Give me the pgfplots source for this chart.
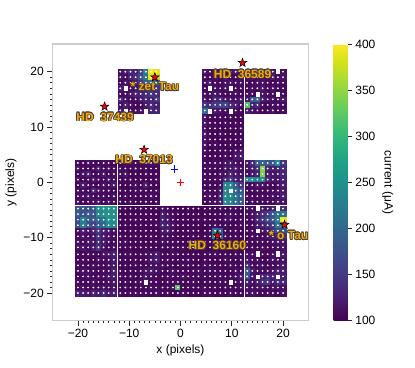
\documentclass[border=0pt]{standalone}
\usepackage{fontspec}
\setmainfont{Liberation Sans}
\usepackage{pgfplots}
\pgfplotsset{compat=1.18}
\usepackage{pgfplotstable}
\definecolor{lblor}{RGB}{255,165,0}

% filled five-point star
\pgfdeclareplotmark{fstar}{%
  \pgfpathmoveto{\pgfpointpolar{90}{\pgfplotmarksize}}%
  \pgfpathlineto{\pgfpointpolar{126}{0.4\pgfplotmarksize}}%
  \pgfpathlineto{\pgfpointpolar{162}{\pgfplotmarksize}}%
  \pgfpathlineto{\pgfpointpolar{198}{0.4\pgfplotmarksize}}%
  \pgfpathlineto{\pgfpointpolar{234}{\pgfplotmarksize}}%
  \pgfpathlineto{\pgfpointpolar{270}{0.4\pgfplotmarksize}}%
  \pgfpathlineto{\pgfpointpolar{306}{\pgfplotmarksize}}%
  \pgfpathlineto{\pgfpointpolar{342}{0.4\pgfplotmarksize}}%
  \pgfpathlineto{\pgfpointpolar{18}{\pgfplotmarksize}}%
  \pgfpathlineto{\pgfpointpolar{54}{0.4\pgfplotmarksize}}%
  \pgfpathclose
  \pgfusepathqfillstroke}

% orange label with a dark outline
\newcommand{\lblfont}{\fontsize{12}{14}\selectfont\bfseries}
\newcommand{\olbl}[2]{%
  \foreach \a in {0,30,...,330}{%
    \node[inner sep=0pt, text=black!75, font=\lblfont] at ([shift={(\a:0.75pt)}]#1) {#2};}%
  \node[inner sep=0pt, text=lblor, font=\lblfont] at (#1) {#2};}

% pixel currents: x y current (missing pixels left out)
\pgfplotstableread[row sep=\\]{
x y c\\
-11.75 20 110\\ -10.75 20 122\\ -9.75 20 135\\ -8.75 20 126\\ -7.75 20 150\\ -6.75 20 230\\ -5.75 20 395\\ -4.75 20 390\\
-11.75 19 114\\ -10.75 19 107\\ -9.75 19 126\\ -8.75 19 135\\ -7.75 19 170\\ -6.75 19 215\\ -5.75 19 385\\ -4.75 19 370\\
-11.75 18 104\\ -10.75 18 118\\ -9.75 18 110\\ -8.75 18 122\\ -7.75 18 145\\ -6.75 18 185\\ -5.75 18 210\\ -4.75 18 190\\
-11.75 17 126\\ -9.75 17 107\\ -8.75 17 114\\ -7.75 17 135\\ -6.75 17 150\\ -5.75 17 175\\ -4.75 17 145\\
-11.75 16 107\\ -10.75 16 110\\ -9.75 16 118\\ -8.75 16 130\\ -7.75 16 126\\ -6.75 16 135\\ -5.75 16 145\\ -4.75 16 135\\
-11.75 15 135\\ -10.75 15 114\\ -9.75 15 104\\ -8.75 15 110\\ -7.75 15 122\\ -6.75 15 130\\ -5.75 15 126\\ -4.75 15 150\\
-11.75 14 110\\ -10.75 14 126\\ -9.75 14 114\\ -8.75 14 104\\ -7.75 14 107\\ -6.75 14 118\\ -5.75 14 135\\ -4.75 14 122\\
-11.75 13 118\\ -9.75 13 107\\ -8.75 13 110\\ -7.75 13 114\\ -5.75 13 126\\ -4.75 13 130\\
4.75 20 118\\ 5.75 20 110\\ 6.75 20 107\\ 7.75 20 114\\ 8.75 20 104\\ 9.75 20 110\\ 10.75 20 122\\ 11.75 20 107\\
4.75 19 107\\ 5.75 19 104\\ 6.75 19 114\\ 7.75 19 110\\ 8.75 19 118\\ 9.75 19 107\\ 10.75 19 104\\ 11.75 19 114\\
4.75 18 110\\ 5.75 18 122\\ 6.75 18 107\\ 7.75 18 104\\ 8.75 18 110\\ 9.75 18 114\\ 10.75 18 107\\ 11.75 18 110\\
4.75 17 104\\ 6.75 17 110\\ 7.75 17 107\\ 8.75 17 114\\ 10.75 17 104\\ 11.75 17 107\\
4.75 16 114\\ 5.75 16 107\\ 6.75 16 118\\ 7.75 16 110\\ 8.75 16 104\\ 9.75 16 110\\ 10.75 16 114\\ 11.75 16 104\\
4.75 15 122\\ 5.75 15 110\\ 6.75 15 130\\ 7.75 15 135\\ 8.75 15 118\\ 9.75 15 114\\ 10.75 15 110\\ 11.75 15 118\\
4.75 14 145\\ 5.75 14 135\\ 6.75 14 150\\ 7.75 14 158\\ 8.75 14 165\\ 9.75 14 135\\ 10.75 14 126\\ 11.75 14 110\\
4.75 13 210\\ 6.75 13 118\\ 7.75 13 114\\ 8.75 13 110\\ 10.75 13 107\\ 11.75 13 104\\
13 20 122\\ 14 20 114\\ 15 20 126\\ 16 20 118\\ 17 20 130\\ 18 20 114\\ 20 20 110\\
13 19 110\\ 14 19 118\\ 15 19 107\\ 16 19 114\\ 17 19 110\\ 18 19 122\\ 19 19 107\\ 20 19 114\\
13 18 107\\ 14 18 104\\ 15 18 114\\ 16 18 110\\ 17 18 107\\ 18 18 104\\ 19 18 110\\ 20 18 107\\
13 17 104\\ 14 17 110\\ 15 17 107\\ 16 17 118\\ 17 17 104\\ 18 17 114\\ 19 17 107\\ 20 17 104\\
13 16 110\\ 14 16 107\\ 16 16 114\\ 17 16 110\\ 18 16 107\\ 20 16 110\\
13 15 118\\ 14 15 185\\ 15 15 195\\ 16 15 126\\ 17 15 114\\ 18 15 110\\ 19 15 107\\ 20 15 118\\
13 14 320\\ 14 14 126\\ 15 14 135\\ 16 14 107\\ 17 14 104\\ 18 14 110\\ 19 14 114\\ 20 14 107\\
13 13 126\\ 14 13 114\\ 15 13 110\\ 16 13 104\\ 17 13 107\\ 18 13 114\\ 19 13 104\\ 20 13 110\\
4.75 11.75 114\\ 5.75 11.75 104\\ 6.75 11.75 102\\ 7.75 11.75 107\\ 8.75 11.75 104\\ 9.75 11.75 110\\ 10.75 11.75 102\\ 11.75 11.75 104\\
4.75 10.75 118\\ 5.75 10.75 107\\ 6.75 10.75 104\\ 7.75 10.75 102\\ 8.75 10.75 110\\ 9.75 10.75 104\\ 10.75 10.75 107\\ 11.75 10.75 102\\
4.75 9.75 110\\ 5.75 9.75 102\\ 6.75 9.75 107\\ 7.75 9.75 104\\ 8.75 9.75 102\\ 9.75 9.75 107\\ 10.75 9.75 104\\ 11.75 9.75 110\\
4.75 8.75 122\\ 5.75 8.75 104\\ 6.75 8.75 102\\ 7.75 8.75 110\\ 8.75 8.75 104\\ 9.75 8.75 102\\ 10.75 8.75 107\\ 11.75 8.75 104\\
4.75 7.75 114\\ 5.75 7.75 107\\ 6.75 7.75 104\\ 7.75 7.75 102\\ 8.75 7.75 107\\ 9.75 7.75 104\\ 10.75 7.75 102\\ 11.75 7.75 107\\
4.75 6.75 118\\ 5.75 6.75 102\\ 6.75 6.75 110\\ 7.75 6.75 104\\ 8.75 6.75 102\\ 9.75 6.75 110\\ 10.75 6.75 104\\ 11.75 6.75 102\\
4.75 5.75 110\\ 5.75 5.75 104\\ 6.75 5.75 102\\ 7.75 5.75 107\\ 8.75 5.75 104\\ 9.75 5.75 102\\ 10.75 5.75 110\\ 11.75 5.75 114\\
4.75 4.75 107\\ 5.75 4.75 102\\ 6.75 4.75 104\\ 7.75 4.75 102\\ 8.75 4.75 110\\ 9.75 4.75 104\\ 10.75 4.75 118\\ 11.75 4.75 122\\
-20 3.5 110\\ -19 3.5 104\\ -18 3.5 114\\ -17 3.5 107\\ -16 3.5 104\\ -15 3.5 110\\ -14 3.5 107\\ -13 3.5 104\\
-20 2.5 118\\ -19 2.5 107\\ -18 2.5 104\\ -17 2.5 110\\ -16 2.5 122\\ -15 2.5 104\\ -14 2.5 114\\ -13 2.5 107\\
-20 1.5 107\\ -19 1.5 114\\ -18 1.5 126\\ -17 1.5 104\\ -16 1.5 107\\ -15 1.5 118\\ -14 1.5 104\\ -13 1.5 110\\
-20 0.5 114\\ -19 0.5 104\\ -18 0.5 107\\ -17 0.5 118\\ -16 0.5 110\\ -15 0.5 104\\ -14 0.5 122\\ -13 0.5 107\\
-20 -0.5 104\\ -19 -0.5 122\\ -18 -0.5 110\\ -17 -0.5 107\\ -16 -0.5 104\\ -15 -0.5 114\\ -14 -0.5 107\\ -13 -0.5 118\\
-20 -1.5 110\\ -19 -1.5 107\\ -18 -1.5 104\\ -17 -1.5 130\\ -16 -1.5 114\\ -15 -1.5 107\\ -14 -1.5 110\\ -13 -1.5 104\\
-20 -2.5 107\\ -19 -2.5 114\\ -18 -2.5 118\\ -17 -2.5 104\\ -16 -2.5 107\\ -15 -2.5 110\\ -14 -2.5 104\\ -13 -2.5 114\\
-20 -3.5 114\\ -19 -3.5 104\\ -18 -3.5 107\\ -17 -3.5 110\\ -16 -3.5 118\\ -15 -3.5 104\\ -14 -3.5 114\\ -13 -3.5 107\\
-11.75 3.5 104\\ -10.75 3.5 110\\ -9.75 3.5 107\\ -8.75 3.5 102\\ -7.75 3.5 107\\ -6.75 3.5 104\\ -5.75 3.5 110\\ -4.75 3.5 107\\
-11.75 2.5 107\\ -10.75 2.5 104\\ -9.75 2.5 102\\ -8.75 2.5 110\\ -7.75 2.5 104\\ -6.75 2.5 107\\ -5.75 2.5 104\\ -4.75 2.5 102\\
-11.75 1.5 110\\ -10.75 1.5 118\\ -9.75 1.5 104\\ -8.75 1.5 107\\ -7.75 1.5 102\\ -6.75 1.5 110\\ -5.75 1.5 107\\ -4.75 1.5 104\\
-11.75 0.5 104\\ -10.75 0.5 107\\ -9.75 0.5 110\\ -8.75 0.5 104\\ -7.75 0.5 107\\ -6.75 0.5 102\\ -5.75 0.5 104\\ -4.75 0.5 110\\
-11.75 -0.5 102\\ -10.75 -0.5 104\\ -9.75 -0.5 107\\ -8.75 -0.5 114\\ -7.75 -0.5 104\\ -6.75 -0.5 126\\ -5.75 -0.5 107\\ -4.75 -0.5 102\\
-11.75 -1.5 107\\ -10.75 -1.5 102\\ -9.75 -1.5 104\\ -8.75 -1.5 107\\ -7.75 -1.5 110\\ -6.75 -1.5 107\\ -5.75 -1.5 104\\ -4.75 -1.5 107\\
-11.75 -2.5 104\\ -10.75 -2.5 110\\ -9.75 -2.5 102\\ -8.75 -2.5 104\\ -7.75 -2.5 107\\ -6.75 -2.5 104\\ -5.75 -2.5 114\\ -4.75 -2.5 104\\
-11.75 -3.5 107\\ -10.75 -3.5 104\\ -9.75 -3.5 110\\ -8.75 -3.5 102\\ -7.75 -3.5 104\\ -6.75 -3.5 110\\ -5.75 -3.5 104\\ -4.75 -3.5 107\\
4.75 3.5 107\\ 5.75 3.5 104\\ 6.75 3.5 110\\ 7.75 3.5 107\\ 8.75 3.5 114\\ 9.75 3.5 122\\ 10.75 3.5 110\\ 11.75 3.5 107\\
4.75 2.5 104\\ 5.75 2.5 110\\ 6.75 2.5 107\\ 7.75 2.5 104\\ 8.75 2.5 118\\ 9.75 2.5 114\\ 10.75 2.5 126\\ 11.75 2.5 110\\
4.75 1.5 110\\ 5.75 1.5 107\\ 6.75 1.5 104\\ 7.75 1.5 114\\ 8.75 1.5 110\\ 9.75 1.5 130\\ 10.75 1.5 118\\ 11.75 1.5 114\\
4.75 0.5 107\\ 5.75 0.5 104\\ 6.75 0.5 110\\ 7.75 0.5 107\\ 8.75 0.5 135\\ 9.75 0.5 145\\ 10.75 0.5 126\\ 11.75 0.5 122\\
4.75 -0.5 104\\ 5.75 -0.5 107\\ 6.75 -0.5 104\\ 7.75 -0.5 110\\ 8.75 -0.5 240\\ 9.75 -0.5 245\\ 10.75 -0.5 190\\ 11.75 -0.5 145\\
4.75 -1.5 110\\ 5.75 -1.5 104\\ 6.75 -1.5 107\\ 7.75 -1.5 118\\ 8.75 -1.5 235\\ 10.75 -1.5 200\\ 11.75 -1.5 180\\
4.75 -2.5 107\\ 5.75 -2.5 110\\ 6.75 -2.5 104\\ 7.75 -2.5 126\\ 8.75 -2.5 250\\ 9.75 -2.5 240\\ 10.75 -2.5 215\\ 11.75 -2.5 195\\
4.75 -3.5 104\\ 5.75 -3.5 107\\ 6.75 -3.5 114\\ 7.75 -3.5 122\\ 8.75 -3.5 245\\ 9.75 -3.5 230\\ 10.75 -3.5 210\\ 11.75 -3.5 185\\
13 3.5 118\\ 14 3.5 135\\ 15 3.5 185\\ 16 3.5 190\\ 17 3.5 180\\ 18 3.5 175\\ 19 3.5 250\\ 20 3.5 145\\
13 2.5 114\\ 14 2.5 122\\ 15 2.5 135\\ 16 2.5 345\\ 17 2.5 130\\ 18 2.5 122\\ 19 2.5 126\\ 20 2.5 135\\
13 1.5 110\\ 14 1.5 118\\ 15 1.5 130\\ 16 1.5 340\\ 17 1.5 122\\ 18 1.5 114\\ 19 1.5 118\\ 20 1.5 130\\
13 0.5 245\\ 14 0.5 250\\ 15 0.5 225\\ 16 0.5 240\\ 17 0.5 135\\ 18 0.5 118\\ 19 0.5 114\\ 20 0.5 126\\
13 -0.5 107\\ 14 -0.5 110\\ 15 -0.5 118\\ 16 -0.5 114\\ 17 -0.5 107\\ 18 -0.5 104\\ 19 -0.5 110\\ 20 -0.5 122\\
13 -1.5 104\\ 14 -1.5 107\\ 15 -1.5 110\\ 16 -1.5 104\\ 17 -1.5 110\\ 18 -1.5 107\\ 19 -1.5 114\\ 20 -1.5 118\\
13 -2.5 110\\ 14 -2.5 104\\ 15 -2.5 107\\ 16 -2.5 110\\ 17 -2.5 104\\ 18 -2.5 114\\ 19 -2.5 107\\ 20 -2.5 126\\
13 -3.5 107\\ 14 -3.5 114\\ 15 -3.5 104\\ 16 -3.5 107\\ 17 -3.5 110\\ 18 -3.5 104\\ 19 -3.5 118\\ 20 -3.5 114\\
-20 -4.75 175\\ -19 -4.75 180\\ -18 -4.75 165\\ -17 -4.75 185\\ -16 -4.75 245\\ -15 -4.75 255\\ -14 -4.75 260\\ -13 -4.75 250\\
-20 -5.75 185\\ -19 -5.75 170\\ -18 -5.75 190\\ -17 -5.75 175\\ -16 -5.75 240\\ -15 -5.75 250\\ -14 -5.75 255\\ -13 -5.75 245\\
-20 -6.75 165\\ -19 -6.75 235\\ -18 -6.75 180\\ -17 -6.75 190\\ -16 -6.75 200\\ -15 -6.75 215\\ -14 -6.75 255\\ -13 -6.75 250\\
-20 -7.75 170\\ -19 -7.75 225\\ -18 -7.75 175\\ -17 -7.75 160\\ -16 -7.75 185\\ -15 -7.75 195\\ -14 -7.75 245\\ -13 -7.75 235\\
-20 -8.75 110\\ -19 -8.75 122\\ -18 -8.75 114\\ -17 -8.75 130\\ -16 -8.75 150\\ -15 -8.75 126\\ -14 -8.75 118\\ -13 -8.75 114\\
-20 -9.75 107\\ -19 -9.75 114\\ -18 -9.75 110\\ -17 -9.75 118\\ -16 -9.75 140\\ -15 -9.75 118\\ -14 -9.75 114\\ -13 -9.75 110\\
-20 -10.75 114\\ -19 -10.75 107\\ -18 -10.75 118\\ -17 -10.75 114\\ -16 -10.75 135\\ -15 -10.75 122\\ -14 -10.75 110\\ -13 -10.75 107\\
-20 -11.75 110\\ -19 -11.75 118\\ -18 -11.75 107\\ -17 -11.75 122\\ -16 -11.75 145\\ -15 -11.75 114\\ -14 -11.75 107\\ -13 -11.75 110\\
-11.75 -4.75 104\\ -10.75 -4.75 107\\ -9.75 -4.75 102\\ -8.75 -4.75 104\\ -7.75 -4.75 110\\ -6.75 -4.75 104\\ -5.75 -4.75 102\\ -4.75 -4.75 107\\
-11.75 -5.75 102\\ -10.75 -5.75 104\\ -9.75 -5.75 107\\ -8.75 -5.75 102\\ -7.75 -5.75 104\\ -6.75 -5.75 107\\ -5.75 -5.75 104\\ -4.75 -5.75 102\\
-11.75 -6.75 107\\ -10.75 -6.75 102\\ -9.75 -6.75 104\\ -8.75 -6.75 110\\ -7.75 -6.75 102\\ -6.75 -6.75 104\\ -5.75 -6.75 107\\ -4.75 -6.75 104\\
-11.75 -7.75 104\\ -10.75 -7.75 107\\ -9.75 -7.75 102\\ -8.75 -7.75 104\\ -7.75 -7.75 107\\ -6.75 -7.75 102\\ -5.75 -7.75 104\\ -4.75 -7.75 110\\
-11.75 -8.75 102\\ -10.75 -8.75 104\\ -9.75 -8.75 107\\ -8.75 -8.75 102\\ -7.75 -8.75 104\\ -6.75 -8.75 107\\ -5.75 -8.75 102\\ -4.75 -8.75 104\\
-11.75 -9.75 107\\ -10.75 -9.75 102\\ -9.75 -9.75 104\\ -8.75 -9.75 107\\ -7.75 -9.75 102\\ -6.75 -9.75 104\\ -5.75 -9.75 110\\ -4.75 -9.75 102\\
-11.75 -10.75 104\\ -10.75 -10.75 110\\ -9.75 -10.75 102\\ -8.75 -10.75 104\\ -7.75 -10.75 107\\ -6.75 -10.75 102\\ -5.75 -10.75 104\\ -4.75 -10.75 107\\
-11.75 -11.75 102\\ -10.75 -11.75 104\\ -9.75 -11.75 107\\ -8.75 -11.75 102\\ -7.75 -11.75 104\\ -6.75 -11.75 107\\ -5.75 -11.75 102\\ -4.75 -11.75 104\\
-3.5 -4.75 110\\ -2.5 -4.75 107\\ -1.5 -4.75 104\\ -0.5 -4.75 102\\ 0.5 -4.75 104\\ 1.5 -4.75 107\\ 2.5 -4.75 104\\ 3.5 -4.75 102\\
-3.5 -5.75 122\\ -2.5 -5.75 114\\ -1.5 -5.75 107\\ -0.5 -5.75 104\\ 0.5 -5.75 102\\ 1.5 -5.75 104\\ 2.5 -5.75 107\\ 3.5 -5.75 104\\
-3.5 -6.75 126\\ -2.5 -6.75 118\\ -1.5 -6.75 110\\ -0.5 -6.75 104\\ 0.5 -6.75 107\\ 1.5 -6.75 102\\ 2.5 -6.75 104\\ 3.5 -6.75 107\\
-3.5 -7.75 130\\ -2.5 -7.75 122\\ -1.5 -7.75 114\\ -0.5 -7.75 107\\ 0.5 -7.75 104\\ 1.5 -7.75 104\\ 2.5 -7.75 102\\ 3.5 -7.75 104\\
-3.5 -8.75 118\\ -2.5 -8.75 126\\ -1.5 -8.75 110\\ -0.5 -8.75 104\\ 0.5 -8.75 102\\ 1.5 -8.75 107\\ 2.5 -8.75 104\\ 3.5 -8.75 102\\
-3.5 -9.75 114\\ -2.5 -9.75 110\\ -1.5 -9.75 107\\ -0.5 -9.75 102\\ 0.5 -9.75 104\\ 1.5 -9.75 102\\ 2.5 -9.75 107\\ 3.5 -9.75 104\\
-3.5 -10.75 110\\ -2.5 -10.75 107\\ -1.5 -10.75 104\\ -0.5 -10.75 107\\ 0.5 -10.75 102\\ 1.5 -10.75 104\\ 2.5 -10.75 102\\ 3.5 -10.75 107\\
-3.5 -11.75 107\\ -2.5 -11.75 104\\ -1.5 -11.75 110\\ -0.5 -11.75 104\\ 0.5 -11.75 107\\ 1.5 -11.75 102\\ 2.5 -11.75 104\\ 3.5 -11.75 102\\
4.75 -4.75 104\\ 5.75 -4.75 107\\ 6.75 -4.75 102\\ 7.75 -4.75 110\\ 8.75 -4.75 104\\ 9.75 -4.75 107\\ 10.75 -4.75 110\\ 11.75 -4.75 104\\
4.75 -5.75 102\\ 5.75 -5.75 104\\ 6.75 -5.75 107\\ 7.75 -5.75 104\\ 8.75 -5.75 110\\ 9.75 -5.75 114\\ 10.75 -5.75 107\\ 11.75 -5.75 104\\
4.75 -6.75 107\\ 5.75 -6.75 102\\ 6.75 -6.75 104\\ 7.75 -6.75 107\\ 8.75 -6.75 114\\ 9.75 -6.75 110\\ 10.75 -6.75 104\\ 11.75 -6.75 107\\
4.75 -7.75 104\\ 5.75 -7.75 107\\ 6.75 -7.75 110\\ 7.75 -7.75 104\\ 8.75 -7.75 107\\ 9.75 -7.75 104\\ 10.75 -7.75 102\\ 11.75 -7.75 110\\
4.75 -8.75 102\\ 5.75 -8.75 110\\ 6.75 -8.75 215\\ 7.75 -8.75 180\\ 8.75 -8.75 104\\ 9.75 -8.75 107\\ 10.75 -8.75 110\\ 11.75 -8.75 104\\
4.75 -9.75 104\\ 5.75 -9.75 107\\ 6.75 -9.75 235\\ 7.75 -9.75 190\\ 8.75 -9.75 110\\ 9.75 -9.75 104\\ 10.75 -9.75 107\\ 11.75 -9.75 102\\
4.75 -10.75 107\\ 5.75 -10.75 104\\ 6.75 -10.75 114\\ 7.75 -10.75 107\\ 8.75 -10.75 102\\ 9.75 -10.75 110\\ 10.75 -10.75 104\\ 11.75 -10.75 107\\
4.75 -11.75 104\\ 5.75 -11.75 102\\ 6.75 -11.75 107\\ 7.75 -11.75 104\\ 8.75 -11.75 107\\ 9.75 -11.75 102\\ 10.75 -11.75 110\\ 11.75 -11.75 104\\
13 -4.75 110\\ 14 -4.75 107\\ 16 -4.75 118\\ 17 -4.75 114\\ 18 -4.75 126\\ 20 -4.75 135\\
13 -5.75 107\\ 14 -5.75 114\\ 15 -5.75 122\\ 16 -5.75 135\\ 17 -5.75 150\\ 18 -5.75 175\\ 19 -5.75 210\\ 20 -5.75 215\\
13 -6.75 104\\ 14 -6.75 110\\ 15 -6.75 130\\ 16 -6.75 145\\ 17 -6.75 170\\ 18 -6.75 185\\ 19 -6.75 225\\ 20 -6.75 390\\
13 -7.75 107\\ 14 -7.75 104\\ 15 -7.75 118\\ 16 -7.75 126\\ 17 -7.75 140\\ 18 -7.75 150\\ 19 -7.75 215\\ 20 -7.75 235\\
13 -8.75 110\\ 14 -8.75 107\\ 16 -8.75 114\\ 17 -8.75 122\\ 18 -8.75 135\\ 19 -8.75 170\\ 20 -8.75 180\\
13 -9.75 104\\ 14 -9.75 110\\ 15 -9.75 107\\ 16 -9.75 104\\ 17 -9.75 114\\ 18 -9.75 118\\ 19 -9.75 126\\ 20 -9.75 135\\
13 -10.75 107\\ 14 -10.75 104\\ 15 -10.75 110\\ 16 -10.75 107\\ 17 -10.75 104\\ 18 -10.75 110\\ 19 -10.75 114\\ 20 -10.75 118\\
13 -11.75 104\\ 14 -11.75 107\\ 15 -11.75 104\\ 16 -11.75 110\\ 17 -11.75 107\\ 18 -11.75 104\\ 19 -11.75 110\\ 20 -11.75 114\\
-20 -13 107\\ -19 -13 104\\ -18 -13 110\\ -17 -13 107\\ -16 -13 104\\ -15 -13 114\\ -14 -13 118\\ -13 -13 126\\
-20 -14 104\\ -19 -14 110\\ -18 -14 107\\ -17 -14 104\\ -16 -14 114\\ -15 -14 107\\ -14 -14 110\\ -13 -14 122\\
-20 -15 110\\ -19 -15 107\\ -18 -15 104\\ -17 -15 110\\ -16 -15 107\\ -15 -15 104\\ -14 -15 114\\ -13 -15 118\\
-20 -16 107\\ -19 -16 114\\ -18 -16 110\\ -17 -16 107\\ -16 -16 104\\ -15 -16 110\\ -14 -16 107\\ -13 -16 126\\
-20 -17 104\\ -19 -17 107\\ -18 -17 114\\ -17 -17 104\\ -16 -17 110\\ -15 -17 107\\ -14 -17 118\\ -13 -17 122\\
-20 -18 110\\ -19 -18 104\\ -18 -18 107\\ -17 -18 114\\ -16 -18 107\\ -15 -18 104\\ -14 -18 110\\ -13 -18 118\\
-20 -19 107\\ -19 -19 110\\ -18 -19 104\\ -17 -19 107\\ -16 -19 110\\ -15 -19 114\\ -14 -19 107\\ -13 -19 114\\
-20 -20 126\\ -19 -20 122\\ -18 -20 118\\ -17 -20 130\\ -16 -20 122\\ -15 -20 135\\ -14 -20 118\\ -13 -20 126\\
-11.75 -13 104\\ -10.75 -13 107\\ -9.75 -13 110\\ -8.75 -13 104\\ -7.75 -13 107\\ -6.75 -13 110\\ -5.75 -13 114\\ -4.75 -13 122\\
-11.75 -14 107\\ -10.75 -14 104\\ -9.75 -14 102\\ -8.75 -14 107\\ -7.75 -14 104\\ -6.75 -14 107\\ -5.75 -14 118\\ -4.75 -14 126\\
-11.75 -15 102\\ -10.75 -15 107\\ -9.75 -15 104\\ -8.75 -15 110\\ -7.75 -15 102\\ -6.75 -15 104\\ -5.75 -15 110\\ -4.75 -15 114\\
-11.75 -16 104\\ -10.75 -16 102\\ -9.75 -16 107\\ -8.75 -16 104\\ -7.75 -16 107\\ -6.75 -16 114\\ -5.75 -16 122\\ -4.75 -16 110\\
-11.75 -17 107\\ -10.75 -17 104\\ -9.75 -17 110\\ -8.75 -17 102\\ -7.75 -17 104\\ -6.75 -17 118\\ -5.75 -17 110\\ -4.75 -17 107\\
-11.75 -18 102\\ -10.75 -18 107\\ -9.75 -18 104\\ -8.75 -18 107\\ -7.75 -18 110\\ -5.75 -18 107\\ -4.75 -18 104\\
-11.75 -19 104\\ -10.75 -19 110\\ -9.75 -19 102\\ -8.75 -19 104\\ -7.75 -19 107\\ -6.75 -19 104\\ -5.75 -19 110\\ -4.75 -19 107\\
-11.75 -20 107\\ -10.75 -20 104\\ -9.75 -20 107\\ -8.75 -20 110\\ -7.75 -20 104\\ -6.75 -20 107\\ -5.75 -20 104\\ -4.75 -20 110\\
-3.5 -13 107\\ -2.5 -13 104\\ -1.5 -13 110\\ -0.5 -13 107\\ 0.5 -13 104\\ 1.5 -13 102\\ 2.5 -13 107\\ 3.5 -13 104\\
-3.5 -14 104\\ -2.5 -14 110\\ -1.5 -14 107\\ -0.5 -14 104\\ 0.5 -14 107\\ 1.5 -14 110\\ 2.5 -14 104\\ 3.5 -14 102\\
-3.5 -15 110\\ -2.5 -15 107\\ -1.5 -15 104\\ -0.5 -15 102\\ 0.5 -15 110\\ 1.5 -15 107\\ 2.5 -15 102\\ 3.5 -15 104\\
-3.5 -16 107\\ -2.5 -16 104\\ -1.5 -16 114\\ -0.5 -16 107\\ 0.5 -16 104\\ 1.5 -16 102\\ 2.5 -16 107\\ 3.5 -16 110\\
-3.5 -17 104\\ -2.5 -17 110\\ -1.5 -17 107\\ -0.5 -17 104\\ 0.5 -17 114\\ 1.5 -17 107\\ 2.5 -17 104\\ 3.5 -17 107\\
-3.5 -18 102\\ -2.5 -18 107\\ -1.5 -18 104\\ -0.5 -18 110\\ 0.5 -18 107\\ 1.5 -18 104\\ 2.5 -18 110\\ 3.5 -18 104\\
-3.5 -19 107\\ -2.5 -19 104\\ -1.5 -19 110\\ -0.5 -19 320\\ 0.5 -19 104\\ 1.5 -19 107\\ 2.5 -19 102\\ 3.5 -19 107\\
-3.5 -20 104\\ -2.5 -20 107\\ -1.5 -20 102\\ -0.5 -20 104\\ 0.5 -20 110\\ 1.5 -20 104\\ 2.5 -20 107\\ 3.5 -20 104\\
4.75 -13 104\\ 5.75 -13 107\\ 6.75 -13 110\\ 7.75 -13 104\\ 8.75 -13 107\\ 9.75 -13 104\\ 10.75 -13 110\\ 11.75 -13 107\\
4.75 -14 107\\ 5.75 -14 104\\ 6.75 -14 102\\ 7.75 -14 107\\ 8.75 -14 110\\ 9.75 -14 107\\ 10.75 -14 104\\ 11.75 -14 110\\
4.75 -15 110\\ 5.75 -15 107\\ 6.75 -15 104\\ 7.75 -15 102\\ 8.75 -15 104\\ 9.75 -15 110\\ 10.75 -15 107\\ 11.75 -15 104\\
4.75 -16 104\\ 5.75 -16 110\\ 6.75 -16 107\\ 7.75 -16 104\\ 8.75 -16 107\\ 9.75 -16 104\\ 10.75 -16 114\\ 11.75 -16 107\\
4.75 -17 107\\ 5.75 -17 104\\ 6.75 -17 110\\ 7.75 -17 107\\ 8.75 -17 104\\ 9.75 -17 107\\ 10.75 -17 110\\ 11.75 -17 118\\
4.75 -18 104\\ 5.75 -18 107\\ 6.75 -18 104\\ 7.75 -18 110\\ 8.75 -18 107\\ 10.75 -18 107\\ 11.75 -18 114\\
4.75 -19 110\\ 5.75 -19 104\\ 6.75 -19 107\\ 7.75 -19 104\\ 8.75 -19 110\\ 9.75 -19 107\\ 10.75 -19 104\\ 11.75 -19 110\\
4.75 -20 107\\ 5.75 -20 110\\ 6.75 -20 104\\ 7.75 -20 107\\ 8.75 -20 104\\ 9.75 -20 110\\ 10.75 -20 107\\ 11.75 -20 104\\
13 -13 114\\ 14 -13 110\\ 16 -13 107\\ 17 -13 104\\ 18 -13 110\\ 20 -13 118\\
13 -14 118\\ 14 -14 107\\ 15 -14 110\\ 16 -14 104\\ 17 -14 107\\ 18 -14 114\\ 19 -14 110\\ 20 -14 114\\
13 -15 135\\ 14 -15 110\\ 15 -15 107\\ 16 -15 114\\ 17 -15 104\\ 18 -15 107\\ 19 -15 110\\ 20 -15 118\\
13 -16 185\\ 14 -16 118\\ 15 -16 110\\ 16 -16 107\\ 17 -16 110\\ 18 -16 114\\ 19 -16 126\\ 20 -16 122\\
13 -17 180\\ 14 -17 114\\ 16 -17 130\\ 17 -17 135\\ 18 -17 122\\ 20 -17 126\\
13 -18 126\\ 14 -18 110\\ 15 -18 118\\ 16 -18 135\\ 17 -18 145\\ 18 -18 118\\ 19 -18 135\\ 20 -18 130\\
13 -19 114\\ 14 -19 107\\ 15 -19 110\\ 16 -19 114\\ 17 -19 107\\ 18 -19 110\\ 19 -19 114\\ 20 -19 110\\
13 -20 110\\ 14 -20 114\\ 15 -20 107\\ 16 -20 104\\ 17 -20 110\\ 18 -20 107\\ 19 -20 104\\ 20 -20 114\\
}\chip

\begin{document}
\begin{tikzpicture}
\useasboundingbox (0,0) rectangle (415pt,367pt);
\begin{axis}[
    at={(52.3pt,46.3pt)}, anchor=south west,
    scale only axis, width=256.4pt, height=276.7pt,
    xmin=-25, xmax=25, ymin=-25, ymax=25,
    clip=false,
    xtick={-20,-10,0,10,20}, xticklabels={−20,−10,0,10,20},
    ytick={-20,-10,0,10,20}, yticklabels={−20,−10,0,10,20},
    minor tick num=9,
    tick align=outside, tick pos=left,
    major tick length=5pt, minor tick length=2.5pt,
    major tick style={black!85, line width=0.8pt},
    minor tick style={black!85, line width=0.6pt},
    axis line style={gray!40, line width=1.2pt},
    tick label style={font=\fontsize{12}{14}\selectfont},
    label style={font=\fontsize{12}{14}\selectfont},
    xlabel={x (pixels)}, ylabel={y (pixels)},
    colormap/viridis, point meta min=100, point meta max=400,
    colorbar,
    colorbar style={
        at={(parent axis.north east)}, anchor=north west,
        xshift=16.3pt, width=14.3pt,
        ytick={100,150,200,250,300,350,400},
        yticklabels={100,150,200,250,300,350,400},
        ytick pos=right, yticklabel pos=right,
        tick align=outside, major tick length=4pt,
        major tick style={black!85, line width=0.8pt},
        axis line style={draw=none},
        tick label style={font=\fontsize{12}{14}\selectfont},
        ylabel={current (μA)},
        ylabel style={rotate=180, font=\fontsize{12}{14}\selectfont},
    },
]
\addplot[scatter, only marks, mark=square*, mark size=2.56pt,
    point meta=explicit,
    scatter/use mapped color={draw=mapped color, fill=mapped color},
    mark options={yscale=1.079, line width=0.15pt}]
    table[x=x, y=y, meta=c] {\chip};
\addplot[only marks, white, mark=*, mark size=0.7pt,
    mark options={draw=none, fill=white, fill opacity=0.85}]
    table[x=x, y=y] {\chip};

\addplot[only marks, mark=+, mark size=3.7pt, blue, line width=1.1pt] coordinates {(-1.2,2.4)};
\addplot[only marks, mark=+, mark size=3.7pt, red, line width=1.1pt] coordinates {(0,0)};

\addplot[only marks, mark=fstar, mark size=4.5pt,
    mark options={fill=red, draw=black, line width=0.5pt}]
    coordinates {(-5.0,19.0) (-14.8,13.7) (-7.1,5.9) (12.1,21.6) (7.2,-9.6) (20.3,-7.65)};

\coordinate (lzet) at (axis cs:-5.0,17.25);
\coordinate (l439) at (axis cs:-14.7,11.8);
\coordinate (l013) at (axis cs:-7.1,4.1);
\coordinate (l589) at (axis cs:12.1,19.6);
\coordinate (l160) at (axis cs:7.2,-11.45);
\coordinate (lomi) at (axis cs:21.1,-9.6);
\end{axis}
\olbl{lzet}{* zet Tau}
\olbl{l439}{HD\ \ 37439}
\olbl{l013}{HD\ \ 37013}
\olbl{l589}{HD\ \ 36589}
\olbl{l160}{HD\ \ 36160}
\olbl{lomi}{* o Tau}
\end{tikzpicture}
\end{document}
